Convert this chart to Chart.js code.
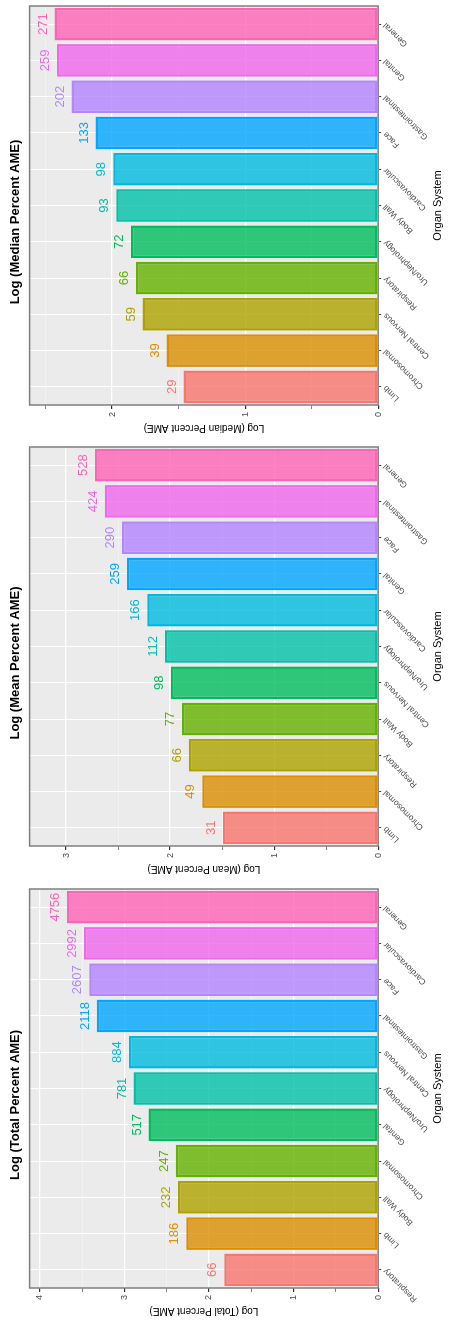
<!DOCTYPE html>
<html><head><meta charset="utf-8">
<script src="https://cdn.jsdelivr.net/npm/chart.js@4"></script>
<style>
body{margin:0;background:#fff;}
#wrap{position:relative;width:449px;height:1325px;overflow:hidden;}
.p{position:absolute;left:0;width:441.67px;height:449px;transform-origin:0 0;transform:rotate(-90deg);}
</style></head><body>
<div id="wrap">
<div class="p" style="top:441.67px"><canvas id="c0"></canvas></div>
<div class="p" style="top:883.33px"><canvas id="c1"></canvas></div>
<div class="p" style="top:1325px"><canvas id="c2"></canvas></div>
</div>
<script>
const palette=['#F8766D','#DB8E00','#AEA200','#64B200','#00BD5C','#00C1A7','#00BADE','#00A6FF','#B385FF','#EF67EB','#FF63B6'];
const totalCats=['Respiratory','Limb','Body Wall','Chromosomal','Genital','Uro/Nephrology','Central Nervous','Gastrointestinal','Face','Cardiovascular','General'];
const totalVals=[66,186,232,247,517,781,884,2118,2607,2992,4756];
const meanCats=['Limb','Chromosomal','Respiratory','Body Wall','Central Nervous','Uro/Nephrology','Cardiovascular','Genital','Face','Gastrointestinal','General'];
const meanVals=[31,49,66,77,98,112,166,259,290,424,528];
const medianCats=['Limb','Chromosomal','Central Nervous','Respiratory','Uro/Nephrology','Body Wall','Cardiovascular','Face','Gastrointestinal','Genital','General'];
const medianVals=[29,39,59,66,72,93,98,133,202,259,271];

function hexA(h,a){const n=parseInt(h.slice(1),16);return `rgba(${n>>16},${(n>>8)&255},${n&255},${a})`;}
const bgPlugin={id:'bg',beforeDraw(c){const a=c.chartArea,x=c.ctx;x.save();x.fillStyle='#EBEBEB';x.fillRect(a.left,a.top,a.right-a.left,a.bottom-a.top);x.restore();},
afterDraw(c){const a=c.chartArea,x=c.ctx;x.save();x.strokeStyle='#7f7f7f';x.lineWidth=1.5;x.strokeRect(a.left,a.top,a.right-a.left,a.bottom-a.top);
 const m=c.getDatasetMeta(0);x.font='13px Liberation Sans, Arial';x.textAlign='center';x.textBaseline='bottom';
 m.data.forEach((b,i)=>{x.fillStyle=palette[i];x.fillText(c.data.datasets[0].raw[i],b.x,b.y-5);});x.restore();}};

function make(id,title,ytitle,cats,vals,ymax){
 new Chart(document.getElementById(id),{type:'bar',
 data:{labels:cats,datasets:[{raw:vals,data:vals.map(v=>Math.log10(v)),backgroundColor:palette.map(p=>hexA(p,0.8)),borderColor:palette,borderWidth:2.5,borderSkipped:false,barPercentage:0.9,categoryPercentage:1}]},
 options:{responsive:false,animation:false,devicePixelRatio:1,
  layout:{padding:{left:4,right:6,top:4,bottom:4}},
  plugins:{legend:{display:false},tooltip:{enabled:false},
   title:{display:true,text:title,color:'#000',font:{size:13,weight:'bold',family:'Liberation Sans, Arial'},padding:{top:4,bottom:6}}},
  scales:{
   x:{grid:{color:'#fff',lineWidth:1,offset:false,drawTicks:true,tickColor:'#333',tickLength:3},border:{display:false},
    ticks:{color:'#4d4d4d',maxRotation:45,minRotation:45,font:{size:8.5,family:'Liberation Sans, Arial'},padding:0},
    title:{display:true,text:'Organ System',color:'#000',font:{size:11,family:'Liberation Sans, Arial'},padding:{top:0,bottom:0}}},
   y:{min:0,max:ymax,
    afterBuildTicks:s=>{const t=[];for(let v=0;v<=ymax+1e-9;v+=0.5)t.push({value:v});s.ticks=t;},
    grid:{color:c=>c.tick&&c.tick.value%1===0?'#fff':'rgba(255,255,255,0.6)',lineWidth:c=>c.tick&&c.tick.value%1===0?1.2:0.6,tickColor:'#333',tickLength:4},border:{display:false},
    ticks:{color:'#4d4d4d',font:{size:9,family:'Liberation Sans, Arial'},callback:v=>v%1===0?v:''},
    title:{display:true,text:ytitle,color:'#000',font:{size:10,family:'Liberation Sans, Arial'},padding:{bottom:2}}}}},
 plugins:[bgPlugin]});
}
['c0','c1','c2'].forEach(id=>{const c=document.getElementById(id);c.width=442;c.height=449;});
make('c0','Log (Median Percent AME)','Log (Median Percent AME)',medianCats,medianVals,2.62);
make('c1','Log (Mean Percent AME)','Log (Mean Percent AME)',meanCats,meanVals,3.35);
make('c2','Log (Total Percent AME)','Log (Total Percent AME)',totalCats,totalVals,4.12);
</script></body></html>
